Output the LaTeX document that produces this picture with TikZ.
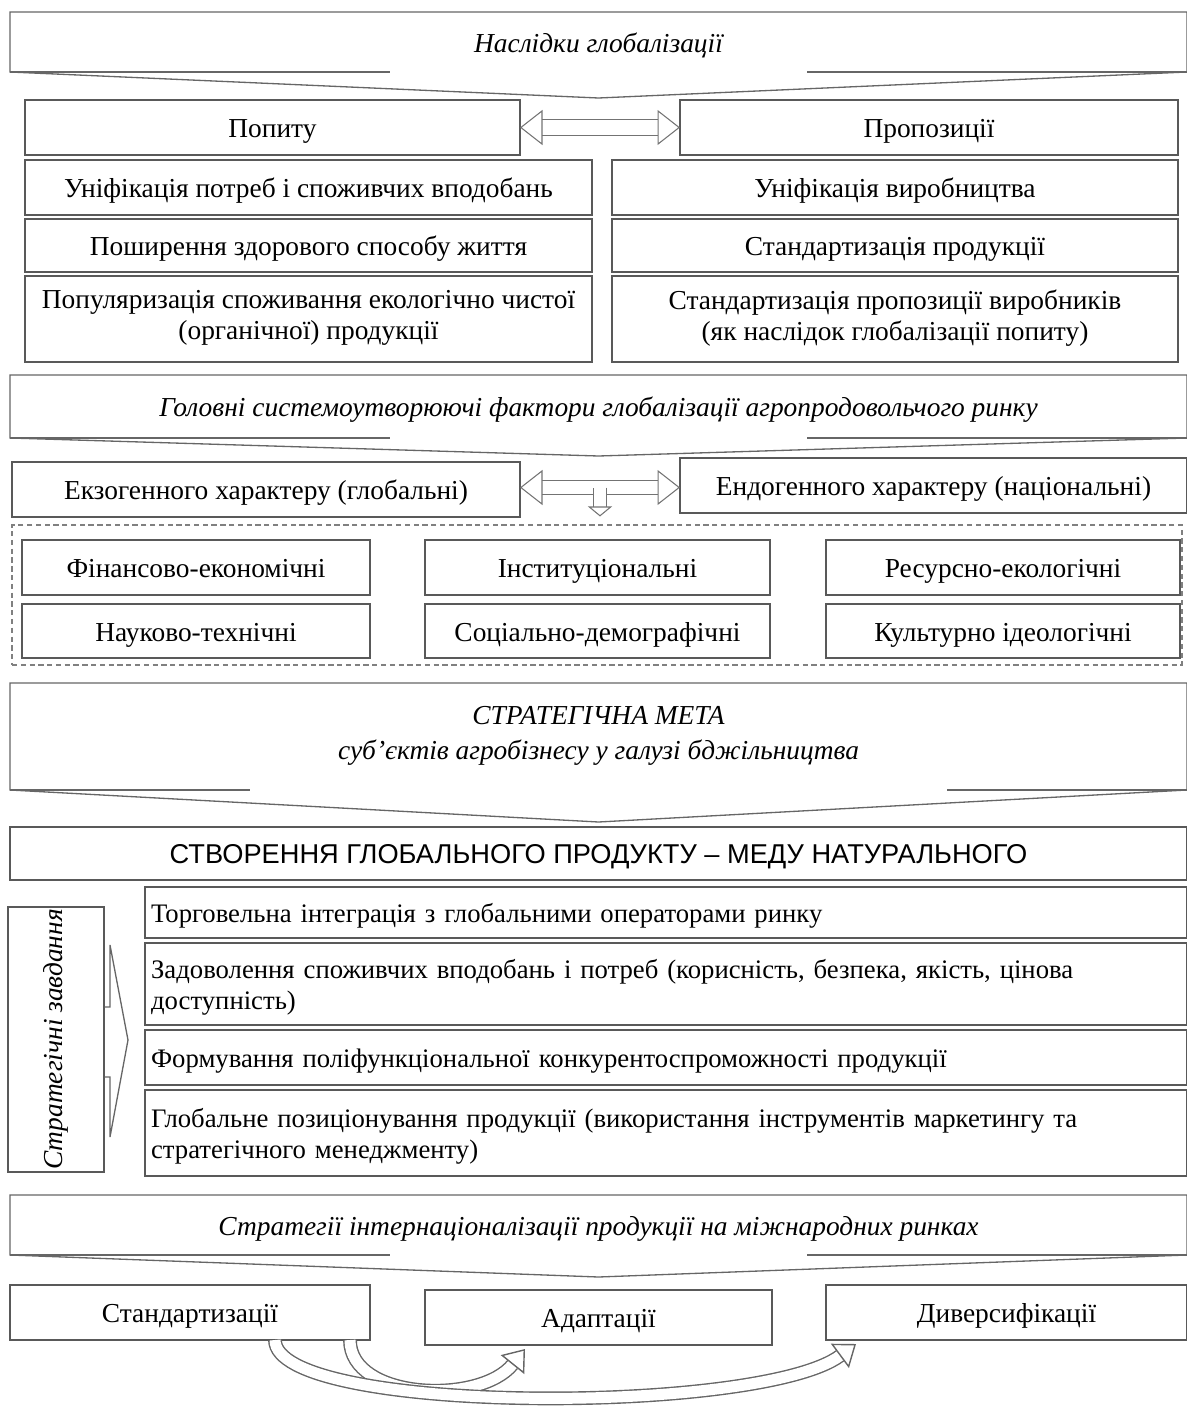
\documentclass[tikz,border=0pt]{standalone}
\usepackage{fontspec}
\setmainfont{Liberation Serif}
\newfontfamily\arialfont{Liberation Sans}
\usetikzlibrary{arrows.meta, positioning, fit, calc}

\newcommand\topstrut{\rule{0pt}{16pt}}
\newcommand\botstrut{\rule[-4.5pt]{0pt}{4.5pt}}

\tikzset{
  spot/.style args={#1/#2/#3/#4}{at={({(#1+#3)/2},{(#2+#4)/2})},
    minimum width={(#3-#1)*0.02cm}, minimum height={(#4-#2)*0.02cm}},
  box/.style={draw=black!65, line width=0.75pt, inner sep=0pt, outer sep=0pt,
    align=center, font=\fontsize{15.6}{18}\selectfont, text=black,
    execute at begin node=\topstrut, execute at end node=\botstrut},
  cell/.style={box},
  rowbox/.style={box, align=left, text width=20.6cm, font=\fontsize{15.2}{17.5}\selectfont},
  bantext/.style={inner sep=0pt, outer sep=0pt, align=center,
    font=\fontsize{15.6}{19}\selectfont\itshape, text=black,
    execute at begin node=\topstrut, execute at end node=\botstrut},
  banline/.style={draw=black!60, line width=0.75pt},
  hollow/.style={draw=black!55, line width=0.6pt, double=white, double distance=0.3cm,
    -{Triangle[open, length=0.45cm, width=0.7cm]}},
  hollowboth/.style={hollow, {Triangle[open, length=0.45cm, width=0.7cm]}-{Triangle[open, length=0.45cm, width=0.7cm]}},
  curvy/.style={draw=black!60, line width=0.8pt, double=white, double distance=0.22cm,
    -{Triangle[open, length=0.4cm, width=0.6cm]}}
}

\begin{document}
\begin{tikzpicture}[x=0.02cm, y=-0.02cm]
\useasboundingbox (0,0) rectangle (1187,1407);

% consequences of globalisation
\node[bantext, spot=10/12/1187/72] (b1) {Наслідки глобалізації};
\node[cell, spot=25/100/520/155] (pop) {Попиту};
\node[cell, spot=680/100/1178/155] (prop) {Пропозиції};
\node[cell, spot=25/160/592/215] (popa) {Уніфікація потреб і споживчих вподобань};
\node[cell, spot=25/219/592/272] (popb) {Поширення здорового способу життя};
\node[box, spot=25/276/592/362] (popc) {Популяризація споживання екологічно чистої\\(органічної) продукції};
\node[cell, spot=612/160/1178/215] (propa) {Уніфікація виробництва};
\node[cell, spot=612/219/1178/272] (propb) {Стандартизація продукції};
\node[box, spot=612/276/1178/362] (propc) {Стандартизація пропозиції виробників\\(як наслідок глобалізації попиту)};
\draw[hollowboth] (pop) -- (prop);

% system-forming factors
\node[bantext, spot=10/375/1187/438] (b2) {Головні системоутворюючі фактори глобалізації агропродовольчого ринку};
\node[cell, spot=12/462/520/517] (exo) {Екзогенного характеру (глобальні)};
\node[cell, spot=680/458/1187/513] (endo) {Ендогенного характеру (національні)};
\node[draw=black!50, densely dashed, line width=0.6pt, inner sep=0pt, spot=12/525/1182/665] (frame) {};
\node[cell, spot=22/540/370/595] (fin) {Фінансово-економічні};
\node[cell, spot=425/540/770/595] (inst) {Інституціональні};
\node[cell, spot=826/540/1180/595] (res) {Ресурсно-екологічні};
\node[cell, spot=22/604/370/658] (sci) {Науково-технічні};
\node[cell, spot=425/604/770/658] (soc) {Соціально-демографічні};
\node[cell, spot=826/604/1180/658] (cult) {Культурно ідеологічні};
\coordinate (mid) at ($(exo.east)!.5!(endo.west)$);
\draw[hollowboth, double distance=0.26cm] (exo.east |- mid) -- (endo.west |- mid);
\draw[hollow, double distance=0.24cm, -{Triangle[open, length=0.2cm, width=0.48cm]}] (mid) -- ($(mid |- frame.north)+(0,-8)$);

% strategic goal
\node[bantext, spot=10/683/1187/790, font=\fontsize{15.6}{20}\selectfont\itshape] (b3)
  {СТРАТЕГІЧНА МЕТА\\суб’єктів агробізнесу у галузі бджільництва};
\node[cell, spot=10/827/1187/880, font=\fontsize{15.5}{18}\selectfont\arialfont] (goal)
  {СТВОРЕННЯ ГЛОБАЛЬНОГО ПРОДУКТУ – МЕДУ НАТУРАЛЬНОГО};

% strategic tasks
\node[draw=black!65, line width=0.75pt, inner sep=0pt, spot=8/907/104/1172] (tasks) {};
\node[rotate=90, font=\fontsize{15.6}{18}\selectfont\itshape, text=black] (taskslbl) at (tasks) {Стратегічні завдання};
\node[rowbox, spot=145/887/1187/938] (ta) {Торговельна інтеграція з глобальними операторами ринку};
\node[rowbox, spot=145/943/1187/1025] (tb) {Задоволення споживчих вподобань і потреб (корисність, безпека, якість, цінова\\доступність)};
\node[rowbox, spot=145/1030/1187/1085] (tc) {Формування поліфункціональної конкурентоспроможності продукції};
\node[rowbox, spot=145/1090/1187/1176] (td) {Глобальне позиціонування продукції (використання інструментів маркетингу та\\стратегічного менеджменту)};
\draw[banline] (tasks.east |- 0,1007) -- (110,1007) -- (110,945) -- (128,1040)
  -- (110,1137) -- (110,1077) -- (tasks.east |- 0,1077);

% internationalisation strategies
\node[bantext, spot=10/1195/1187/1255] (b4) {Стратегії інтернаціоналізації продукції на міжнародних ринках};
\node[cell, spot=10/1285/370/1340] (st) {Стандартизації};
\node[cell, spot=425/1290/772/1345] (ad) {Адаптації};
\node[cell, spot=826/1285/1187/1340] (div) {Диверсифікації};
\draw[curvy] ($(st.south west)+(340,0)$) .. controls (350,1400) and (480,1405) .. ($(ad.south west)+(100,4)$);
\draw[curvy] ($(st.south west)+(265,0)$) .. controls (275,1415) and (760,1415) .. ($(div.south west)+(30,4)$);

% callout outlines
\foreach \b/\dep/\seg in {b1/26/380, b2/18/380, b3/32/240, b4/22/380}{
  \draw[banline] (\b.south west) -- (\b.north west) -- (\b.north east) -- (\b.south east)
    -- ($(\b.south)+(0,\dep)$) -- cycle;
  \draw[banline] (\b.south west) -- ++(\seg,0) (\b.south east) -- ++(-\seg,0);
}
\end{tikzpicture}
\end{document}
